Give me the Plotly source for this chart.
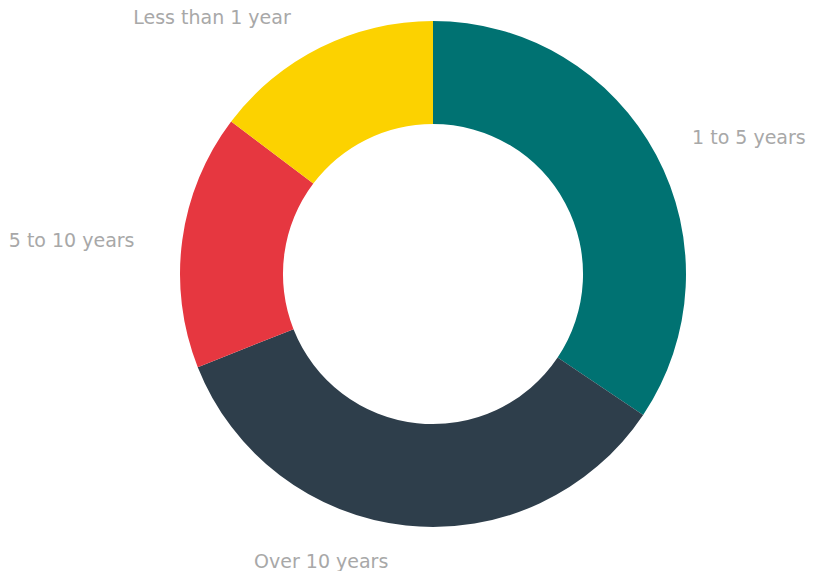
import plotly.graph_objects as go

labels = ["1 to 5 years", "Over 10 years", "5 to 10 years", "Less than 1 year"]
values = [34.4, 34.6, 16.3, 14.7]
colors = ["#007272", "#2e3e4b", "#e63740", "#fcd200"]

NB = "\u00a0"
SPACER = "<span style='font-size:13px'>" + NB + "</span>"
# label text padded with non-breaking spaces / blank lines to push the labels further out
label_text = [
    NB * 4 + labels[0] + "<br>" + NB,
    NB + "<br>" + labels[1] + NB,
    labels[2] + NB * 7,
    labels[3] + NB * 3 + "<br>" + SPACER,
]

fig = go.Figure(go.Pie(
    labels=labels,
    values=values,
    text=label_text,
    hole=0.593,
    sort=False,
    direction="clockwise",
    rotation=0,
    marker=dict(colors=colors, line=dict(width=0)),
    textinfo="text",
    hoverinfo="label+percent",
    textposition="outside",
    outsidetextfont=dict(family="DejaVu Sans", size=19, color="#a8a8a8"),
    showlegend=False,
    domain=dict(x=[172/815, 678/815], y=[1-519/571, 1-13/571]),
))
fig.update_traces(automargin=False)
fig.update_layout(
    width=815, height=571,
    margin=dict(l=0, r=0, t=0, b=0),
    paper_bgcolor="white",
    plot_bgcolor="white",
)
fig.write_html("out.html")
